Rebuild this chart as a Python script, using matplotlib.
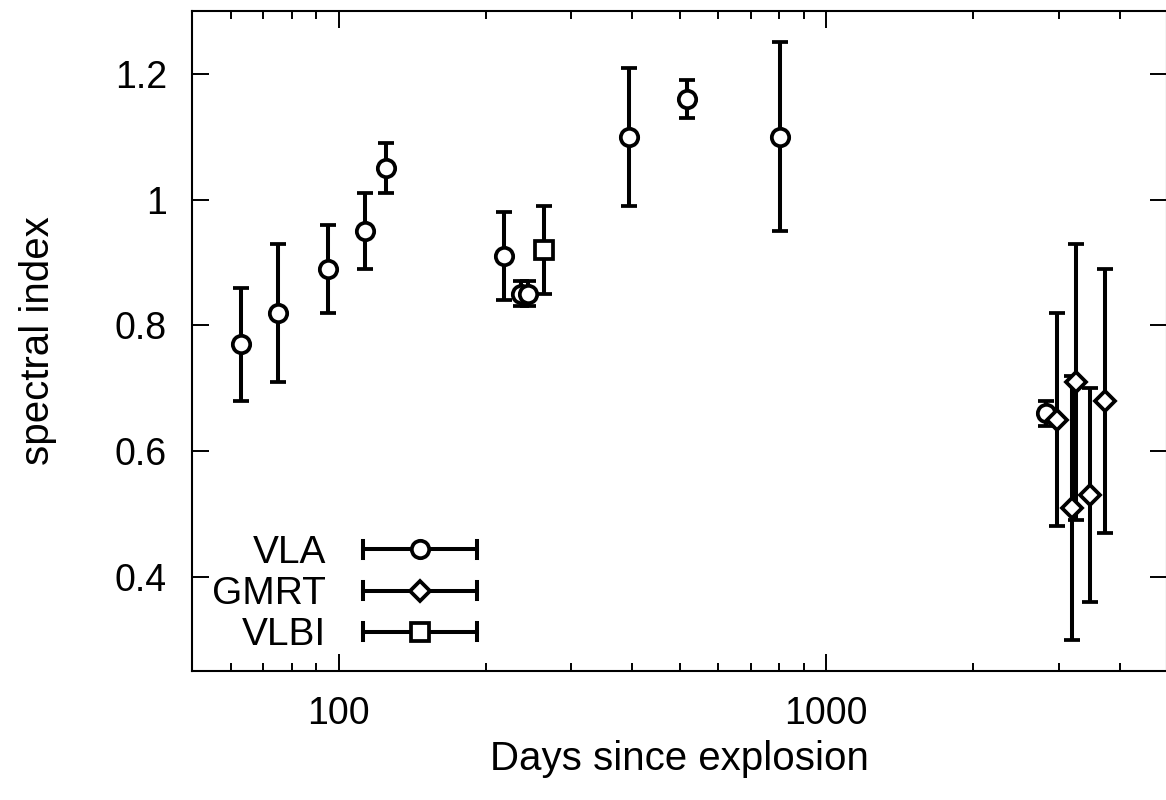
import numpy as np
import matplotlib
matplotlib.use('Agg')
import matplotlib.pyplot as plt
from matplotlib.ticker import LogLocator, FuncFormatter, NullFormatter
from matplotlib.legend_handler import HandlerBase
from matplotlib.container import ErrorbarContainer
from matplotlib.lines import Line2D

plt.rcParams['font.family'] = ['Liberation Sans', 'DejaVu Sans']

# VLA spectral indices
vla_days = [63, 75, 95, 113, 125, 218, 236, 245, 393, 519, 805, 2828]
vla_alpha = [0.77, 0.82, 0.89, 0.95, 1.05, 0.91, 0.85, 0.85, 1.10, 1.16, 1.10, 0.66]
vla_err = [0.09, 0.11, 0.07, 0.06, 0.04, 0.07, 0.02, 0.02, 0.11, 0.03, 0.15, 0.02]

# GMRT spectral indices
gmrt_days = [2970, 3195, 3255, 3472, 3739]
gmrt_alpha = [0.65, 0.51, 0.71, 0.53, 0.68]
gmrt_err = [0.17, 0.21, 0.22, 0.17, 0.21]

# VLBI spectral index
vlbi_days = [264]
vlbi_alpha = [0.92]
vlbi_err = [0.07]

y_ticks = [0.4, 0.6, 0.8, 1.0, 1.2]

LW = 2.9
CAP = 6


class GnuplotErrHandler(HandlerBase):
    # horizontal sample with caps on both ends, point in the middle
    def create_artists(self, legend, orig_handle, xdescent, ydescent,
                       width, height, fontsize, trans):
        data_line = orig_handle[0]
        x0, x1 = -xdescent, width - xdescent
        y = height / 2 - ydescent
        bar = Line2D([x0, x1], [y, y], color='k', lw=LW)
        caps = Line2D([x0, x0, np.nan, x1, x1],
                      [y - CAP, y + CAP, np.nan, y - CAP, y + CAP],
                      color='k', lw=LW)
        mark = Line2D([(x0 + x1) / 2], [y], marker=data_line.get_marker(),
                      markersize=data_line.get_markersize(),
                      markerfacecolor='white', markeredgecolor='k',
                      markeredgewidth=data_line.get_markeredgewidth(),
                      linestyle='none')
        for a in (bar, caps, mark):
            a.set_transform(trans)
        return [bar, caps, mark]


fig = plt.figure(figsize=(11.66, 8), dpi=100)
ax = fig.add_axes([192 / 1166, 129 / 800, 975 / 1166, 660 / 800])

style = dict(linestyle='none', mfc='white', mec='k', mew=2.7,
             ecolor='k', elinewidth=LW, capsize=CAP, capthick=LW)
ax.errorbar(vla_days, vla_alpha, yerr=vla_err, marker='o', ms=12.5,
            label='VLA', **style)
ax.errorbar(gmrt_days, gmrt_alpha, yerr=gmrt_err, marker='D', ms=10,
            label='GMRT', **style)
ax.errorbar(vlbi_days, vlbi_alpha, yerr=vlbi_err, marker='s', ms=12.5,
            label='VLBI', **style)

ax.set_xscale('log')
ax.set_xlim(50, 5000)
ax.set_ylim(0.25, 1.3)
ax.set_yticks(y_ticks)
ax.yaxis.set_major_formatter(FuncFormatter(lambda v, p: f'{v:g}'))
ax.xaxis.set_major_locator(LogLocator(base=10))
ax.xaxis.set_minor_locator(LogLocator(base=10, subs=np.arange(2, 10)))
ax.xaxis.set_major_formatter(FuncFormatter(lambda v, p: f'{v:g}'))
ax.xaxis.set_minor_formatter(NullFormatter())

ax.tick_params(which='both', direction='in', top=True, right=True,
               width=1.4, labelsize=27)
ax.tick_params(which='major', length=12.5)
ax.tick_params(which='minor', length=6)
ax.tick_params(axis='y', pad=18)
ax.tick_params(axis='x', pad=18)
for sp in ax.spines.values():
    sp.set_linewidth(1.5)

ax.set_xlabel('Days since explosion', fontsize=29, labelpad=6)
ax.set_ylabel('spectral index', fontsize=29, labelpad=42)

ax.legend(handler_map={ErrorbarContainer: GnuplotErrHandler()},
          loc='lower right', bbox_to_anchor=(0.292, 0.027),
          frameon=False, markerfirst=False, fontsize=28,
          handlelength=2.93, handletextpad=0.95, labelspacing=0.13,
          borderpad=0, borderaxespad=0)

fig.savefig('out.png', dpi=100)
